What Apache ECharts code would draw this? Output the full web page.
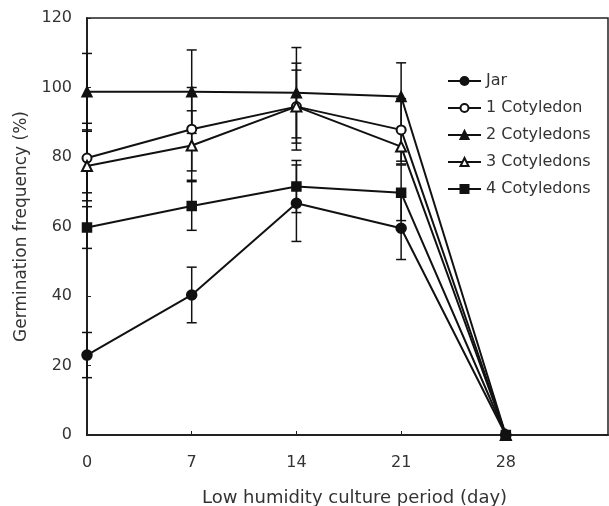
<!DOCTYPE html>
<html>
<head>
<meta charset="utf-8">
<script src="https://cdn.jsdelivr.net/npm/echarts@6/dist/echarts.min.js"></script>
<style>html,body{margin:0;padding:0;background:#fff}#c{width:609px;height:506px}</style>
</head>
<body>
<div id="c"></div>
<script>
// ---- data ----
const days = [0, 7, 14, 21, 28];
const seriesNames = ['Jar', '1 Cotyledon', '2 Cotyledons', '3 Cotyledons', '4 Cotyledons'];
const jar     = [23, 40.3, 66.7, 59.5, 0];
const jarErr  = [6.5, 8, 11, 9, 0];
const cot1    = [79.7, 88, 94.5, 87.8, 0];
const cot1Err = [10, 12, 12.5, 9, 0];
const cot2    = [98.8, 98.8, 98.5, 97.4, 0];
const cot2Err = [11, 12, 13, 9.7, 0];
const cot3    = [77.4, 83.3, 94.5, 83, 0];
const cot3Err = [10, 10, 10.5, 5, 0];
const cot4    = [59.7, 65.9, 71.5, 69.7, 0];
const cot4Err = [6, 7, 7.5, 8, 0];
const xTicks = [0, 7, 14, 21, 28];
const yTicks = [0, 20, 40, 60, 80, 100, 120];

const values = [jar, cot1, cot2, cot3, cot4];
const errors = [jarErr, cot1Err, cot2Err, cot3Err, cot4Err];
const symbols = ['circle', 'emptyCircle', 'triangle', 'emptyTriangle', 'rect'];
const symSizes = [10, 9, 10, 10, 9];
const INK = '#111';
const FONT = 'DejaVu Sans';

const chart = echarts.init(document.getElementById('c'), null, {renderer: 'canvas'});

function errRender(params, api) {
  const x = api.value(0), y = api.value(1), e = api.value(2);
  if (!e) return null;
  const t = api.coord([x, y + e]);
  const b = api.coord([x, y - e]);
  const hw = 5;
  const st = {stroke: INK, lineWidth: 1.5};
  return {
    type: 'group',
    children: [
      {type: 'line', shape: {x1: t[0], y1: t[1], x2: b[0], y2: b[1]}, style: st},
      {type: 'line', shape: {x1: t[0] - hw, y1: t[1], x2: t[0] + hw, y2: t[1]}, style: st},
      {type: 'line', shape: {x1: b[0] - hw, y1: b[1], x2: b[0] + hw, y2: b[1]}, style: st}
    ]
  };
}

const series = [];
values.forEach((vals, i) => {
  series.push({
    type: 'custom',
    name: seriesNames[i] + ' err',
    renderItem: errRender,
    data: days.map((d, k) => [d, vals[k], errors[i][k]]),
    z: 1,
    silent: true
  });
});
values.forEach((vals, i) => {
  series.push({
    type: 'line',
    name: seriesNames[i],
    data: days.map((d, k) => [d, vals[k]]),
    symbol: symbols[i],
    symbolSize: symSizes[i],
    showAllSymbol: true,
    lineStyle: {color: INK, width: 2},
    itemStyle: {color: INK, borderColor: INK, borderWidth: 1.5},
    z: 3,
    animation: false
  });
});

chart.setOption({
  animation: false,
  backgroundColor: '#fff',
  grid: {left: 87, right: 1, top: 18, bottom: 71, show: true, borderColor: '#222', borderWidth: 1.5,
         containLabel: false, outerBoundsMode: 'none'},
  legend: {
    data: seriesNames,
    orient: 'vertical',
    left: 442,
    top: 68,
    itemWidth: 33,
    itemHeight: 10,
    itemGap: 11,
    itemTextGap: 6,
    textStyle: {fontFamily: FONT, fontSize: 16, color: '#333'}
  },
  xAxis: {
    type: 'value',
    min: 0,
    max: 34.83,
    interval: 7,
    name: 'Low humidity culture period (day)',
    nameLocation: 'middle',
    nameGap: 54,
    nameTextStyle: {fontFamily: FONT, fontSize: 18, color: '#333', padding: [0, 0, 0, 14]},
    axisLine: {lineStyle: {color: '#222', width: 2}},
    axisTick: {inside: true, length: 4, lineStyle: {color: '#222'}},
    splitLine: {show: false},
    axisLabel: {
      fontFamily: FONT, fontSize: 16, color: '#333', margin: 20, showMaxLabel: false,
      formatter: v => (xTicks.indexOf(v) >= 0 ? String(v) : '')
    }
  },
  yAxis: {
    type: 'value',
    min: 0,
    max: 120,
    interval: 20,
    name: 'Germination frequency (%)',
    nameLocation: 'middle',
    nameGap: 57,
    nameTextStyle: {fontFamily: FONT, fontSize: 17, color: '#333'},
    axisLine: {show: true, lineStyle: {color: '#222', width: 2}},
    axisTick: {show: true, inside: true, length: 4, lineStyle: {color: '#222'}},
    splitLine: {show: false},
    axisLabel: {
      fontFamily: FONT, fontSize: 16, color: '#333', margin: 15,
      formatter: v => (yTicks.indexOf(v) >= 0 ? String(v) : '')
    }
  },
  series: series
});
</script>
</body>
</html>
